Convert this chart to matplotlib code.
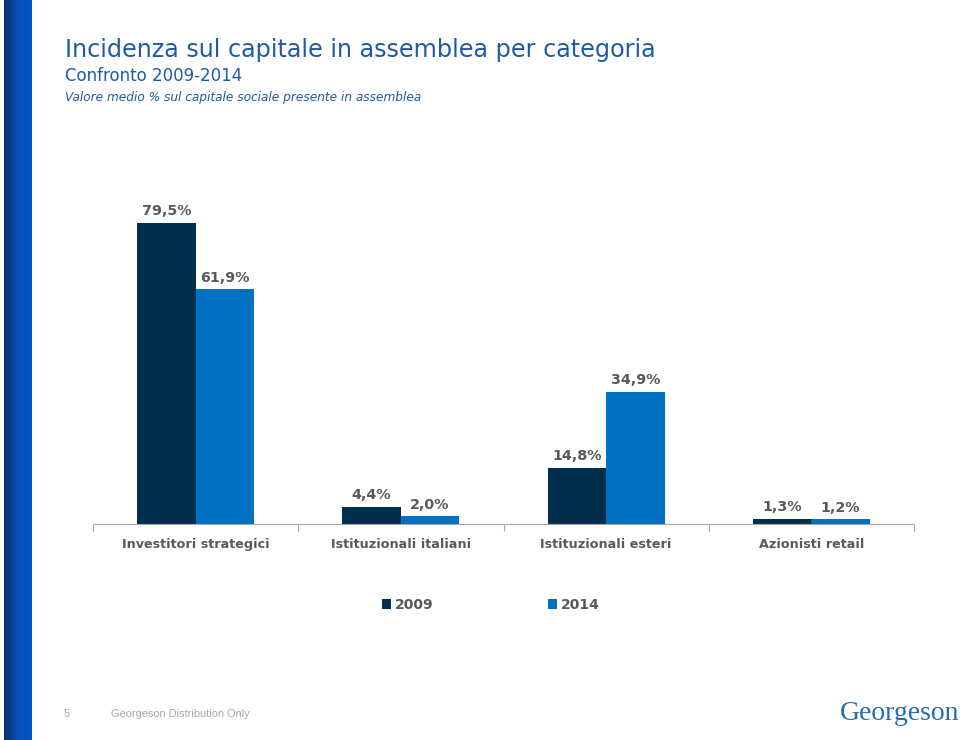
import matplotlib
matplotlib.use("Agg")
import matplotlib.pyplot as plt
import numpy as np

categories = ["Investitori strategici", "Istituzionali italiani",
              "Istituzionali esteri", "Azionisti retail"]
years = ["2009", "2014"]
values_2009 = [79.5, 4.4, 14.8, 1.3]
values_2014 = [61.9, 2.0, 34.9, 1.2]

C2009 = "#002E4F"
C2014 = "#0070C0"
GREY = "#595959"
TITLE = "#1F5AA6"

fig = plt.figure(figsize=(9.6, 7.4), dpi=100)

# left gradient stripe
strip = fig.add_axes([4 / 960, 0, 28 / 960, 1])
grad = np.linspace(0, 1, 64).reshape(1, -1)
cmap = matplotlib.colors.LinearSegmentedColormap.from_list("s", ["#0B2F6A", "#0650B8", "#0057C8"])
strip.imshow(grad, aspect="auto", cmap=cmap, extent=[0, 1, 0, 1])
strip.axis("off")

# titles
fig.text(65 / 960, 1 - 50 / 740, "Incidenza sul capitale in assemblea per categoria",
         fontsize=17.2, color=TITLE, va="center", ha="left")
fig.text(65 / 960, 1 - 76 / 740, "Confronto 2009-2014",
         fontsize=12, color=TITLE, va="center", ha="left")
fig.text(65 / 960, 1 - 98 / 740, "Valore medio % sul capitale sociale presente in assemblea",
         fontsize=8.7, color=TITLE, style="italic", va="center", ha="left")

# chart
ax = fig.add_axes([93 / 960, 216 / 740, 821 / 960, 341 / 740])
x = np.arange(len(categories))
w = 0.285
b1 = ax.bar(x - w / 2, values_2009, w, color=C2009, label=years[0])
b2 = ax.bar(x + w / 2, values_2014, w, color=C2014, label=years[1])
ax.set_xlim(-0.5, len(categories) - 0.5)
ax.set_ylim(0, 90)

def fmt(v):
    return f"{v:.1f}%".replace(".", ",")

for bars, vals in [(b1, values_2009), (b2, values_2014)]:
    for r, v in zip(bars, vals):
        ax.annotate(fmt(v), (r.get_x() + r.get_width() / 2, v), xytext=(0, 3.5),
                    textcoords="offset points", ha="center", va="bottom",
                    fontsize=10.3, fontweight="bold", color=GREY)

for s in ["top", "right", "left"]:
    ax.spines[s].set_visible(False)
ax.spines["bottom"].set_color("#A6A6A6")
ax.set_yticks([])
ax.set_xticks(np.arange(-0.5, len(categories), 1.0))
ax.set_xticklabels([])
ax.tick_params(axis="x", length=5, color="#A6A6A6")
for i, c in enumerate(categories):
    ax.text(i, -5.3, c, ha="center", va="center", fontsize=9.2,
            fontweight="bold", color=GREY)

fig.legend(handles=[b1, b2], labels=years, loc="center", bbox_to_anchor=(491 / 960, 1 - 605 / 740),
           ncol=2, frameon=False, handlelength=0.65, handleheight=0.65, handletextpad=0.3,
           columnspacing=8.2, prop={"weight": "bold", "size": 10}, labelcolor=GREY)

# footer
fig.text(67 / 960, 1 - 714 / 740, "5", fontsize=8, color="#A6A6A6",
         family="Liberation Sans", ha="center", va="center")
fig.text(111 / 960, 1 - 714 / 740, "Georgeson Distribution Only", fontsize=7.9,
         color="#A6A6A6", family="Liberation Sans", ha="left", va="center")
fig.text(900 / 960, 1 - 713 / 740, "Georgeson", fontsize=20, color="#2A6BB0",
         family="Liberation Serif", ha="center", va="center")

fig.savefig("out.png", dpi=100)
